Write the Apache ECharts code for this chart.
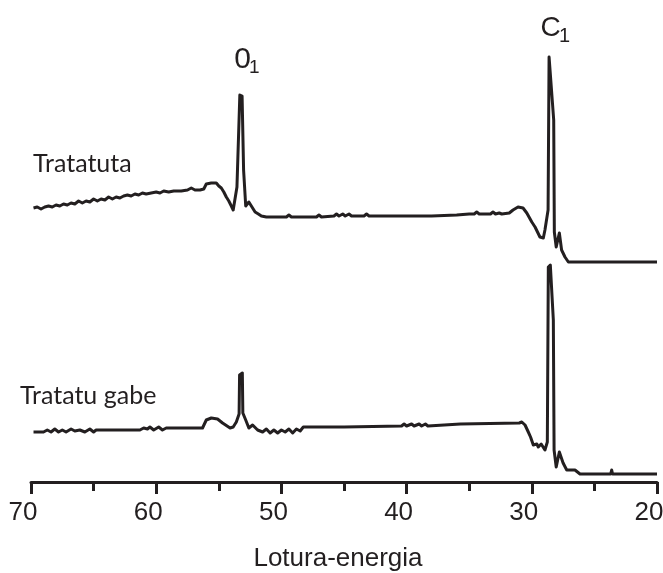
<!DOCTYPE html>
<html>
<head>
<meta charset="utf-8">
<script src="https://cdn.jsdelivr.net/npm/echarts@6/dist/echarts.min.js"></script>
<style>
  html, body { margin: 0; padding: 0; background: #fff; }
  #app { width: 663px; height: 573px; }
</style>
</head>
<body>
<div id="app"></div>
<script>
// binding energy ticks
const xTicks = [70, 60, 50, 40, 30, 20];

// upper spectrum (treated), [energy, intensity]
const treatedTrace = [
  [69.8, 274], [69.5, 275], [69.2, 273], [68.9, 275], [68.6, 276], [68.3, 275],
  [68.0, 277], [67.7, 276], [67.4, 278], [67.1, 277], [66.8, 279], [66.5, 278],
  [66.2, 281], [65.9, 279], [65.6, 281], [65.3, 280], [65.0, 283], [64.7, 281],
  [64.4, 283], [64.1, 282], [63.8, 285], [63.5, 283], [63.2, 285], [62.9, 284],
  [62.6, 286], [62.3, 287], [62.0, 286], [61.7, 288], [61.4, 287], [61.1, 289],
  [60.8, 288], [60.4, 289], [60.0, 290], [59.7, 289], [59.4, 291], [59.0, 290],
  [58.6, 291], [58.0, 291], [57.5, 292], [57.2, 294], [56.9, 292], [56.5, 292],
  [56.2, 293], [56.0, 298], [55.6, 299], [55.2, 299], [55.0, 296], [54.8, 294],
  [54.6, 290], [54.4, 285], [54.2, 281], [54.0, 276], [53.85, 272], [53.7, 270],
  [53.55, 295], [53.32, 387], [53.14, 386], [53.02, 312], [52.85, 276], [52.6, 280],
  [52.5, 279], [52.35, 275], [52.24, 274], [52.1, 270], [51.84, 268], [51.6, 266],
  [51.2, 265], [49.6, 265], [49.4, 267], [49.2, 265], [47.2, 265], [47.0, 267],
  [46.8, 265], [45.8, 266], [45.6, 268], [45.4, 266], [45.1, 268], [44.9, 266],
  [44.6, 268], [44.4, 266], [43.4, 266], [43.2, 268], [43.0, 266], [40.0, 266],
  [38.0, 266], [36.0, 267], [35.0, 268], [34.6, 268], [34.4, 270], [34.2, 268],
  [33.3, 268], [33.1, 270], [32.9, 268], [32.6, 269], [32.4, 268], [31.8, 269],
  [31.5, 272], [31.1, 275], [30.7, 274], [30.4, 269], [30.0, 260], [29.74, 255],
  [29.35, 245], [29.08, 244], [28.95, 252], [28.7, 272], [28.62, 425], [28.48, 424],
  [28.25, 362], [28.2, 250], [28.05, 235], [27.8, 249], [27.62, 232], [27.35, 225],
  [27.08, 220], [20.0, 220]
];

// lower spectrum (untreated), [energy, intensity]
const untreatedTrace = [
  [69.8, 50], [69.0, 50], [68.7, 52], [68.4, 50], [68.1, 53], [67.8, 50],
  [67.5, 52], [67.2, 50], [66.8, 53], [66.5, 51], [66.1, 52], [65.7, 50],
  [65.3, 53], [65.0, 50], [64.8, 52], [61.3, 52], [61.0, 54], [60.7, 53],
  [60.5, 55], [60.2, 52], [59.8, 55], [59.5, 52], [59.2, 54], [56.3, 54],
  [56.0, 62], [55.6, 64], [55.1, 63], [54.7, 59], [54.1, 54], [53.85, 55],
  [53.6, 60], [53.38, 68], [53.34, 107], [53.12, 109], [53.08, 69], [52.85, 62],
  [52.6, 54], [52.3, 57], [51.9, 52], [51.5, 50], [51.2, 53], [50.9, 49],
  [50.6, 52], [50.3, 49], [50.0, 52], [49.7, 50], [49.4, 53], [49.1, 49],
  [48.8, 53], [48.5, 51], [48.25, 55], [45.0, 55], [40.4, 56], [40.2, 58],
  [40.0, 56], [39.6, 58], [39.4, 56], [39.0, 58], [38.8, 56], [38.5, 58],
  [38.3, 56], [35.7, 58], [31.0, 59], [30.8, 60], [30.54, 57], [30.28, 50],
  [30.1, 45], [29.88, 37], [29.6, 38], [29.48, 35], [29.25, 38], [28.95, 32],
  [28.76, 40], [28.68, 215], [28.52, 217], [28.28, 162], [28.22, 32], [28.05, 15],
  [27.8, 30], [27.5, 19], [27.21, 12], [26.55, 12], [26.15, 8], [23.7, 8],
  [23.62, 12], [23.55, 8], [20.0, 8]
];

const ink = '#231f20';

var myChart = echarts.init(document.getElementById('app'));

let option = {
  animation: false,
  grid: {
    left: 31,
    right: 6,
    top: 0,
    bottom: 91,
    outerBoundsMode: 'none'
  },
  xAxis: {
    type: 'value',
    inverse: true,
    min: 20,
    max: 70,
    interval: 10,
    name: 'Lotura-energia',
    nameLocation: 'middle',
    nameGap: 64,
    nameTextStyle: {
      fontFamily: 'Liberation Sans',
      fontSize: 26,
      color: ink,
      padding: [0, 12, 0, 0]
    },
    axisLine: { lineStyle: { color: ink, width: 3 } },
    axisTick: { length: 12, lineStyle: { color: ink, width: 3 } },
    minorTick: { show: true, splitNumber: 2, length: 9, lineStyle: { color: ink, width: 3 } },
    splitLine: { show: false },
    axisLabel: {
      margin: 18,
      fontFamily: 'Liberation Sans',
      fontSize: 26,
      color: ink,
      padding: [0, 16, 0, 0],
      formatter: v => (xTicks.indexOf(v) >= 0 ? String(v) : '')
    }
  },
  yAxis: {
    type: 'value',
    min: 0,
    max: 482,
    show: false
  },
  series: [
    {
      type: 'line',
      data: treatedTrace,
      showSymbol: false,
      clip: false,
      lineStyle: { color: ink, width: 3, join: 'round' }
    },
    {
      type: 'line',
      data: untreatedTrace,
      showSymbol: false,
      clip: false,
      lineStyle: { color: ink, width: 3, join: 'round' }
    }
  ],
  graphic: [
    {
      type: 'text',
      style: { text: 'Tratatuta', x: 33, y: 164, font: '25px Lato', fill: ink, textAlign: 'left', textVerticalAlign: 'middle' }
    },
    {
      type: 'text',
      style: { text: 'Tratatu gabe', x: 20, y: 396, font: '25px Lato', fill: ink, textAlign: 'left', textVerticalAlign: 'middle' }
    },
    {
      type: 'text',
      style: { text: '0', x: 242.5, y: 59.6, font: '30px "Liberation Sans"', fill: ink, textAlign: 'center', textVerticalAlign: 'middle' }
    },
    {
      type: 'text',
      style: { text: '1', x: 249, y: 67.4, font: '19px "Liberation Sans"', fill: ink, textAlign: 'left', textVerticalAlign: 'middle' }
    },
    {
      type: 'text',
      style: { text: 'C', x: 550.5, y: 28.3, font: '28px "Liberation Sans"', fill: ink, textAlign: 'center', textVerticalAlign: 'middle' }
    },
    {
      type: 'text',
      style: { text: '1', x: 559, y: 36.1, font: '20px "Liberation Sans"', fill: ink, textAlign: 'left', textVerticalAlign: 'middle' }
    }
  ]
};

myChart.setOption(option);
</script>
</body>
</html>
